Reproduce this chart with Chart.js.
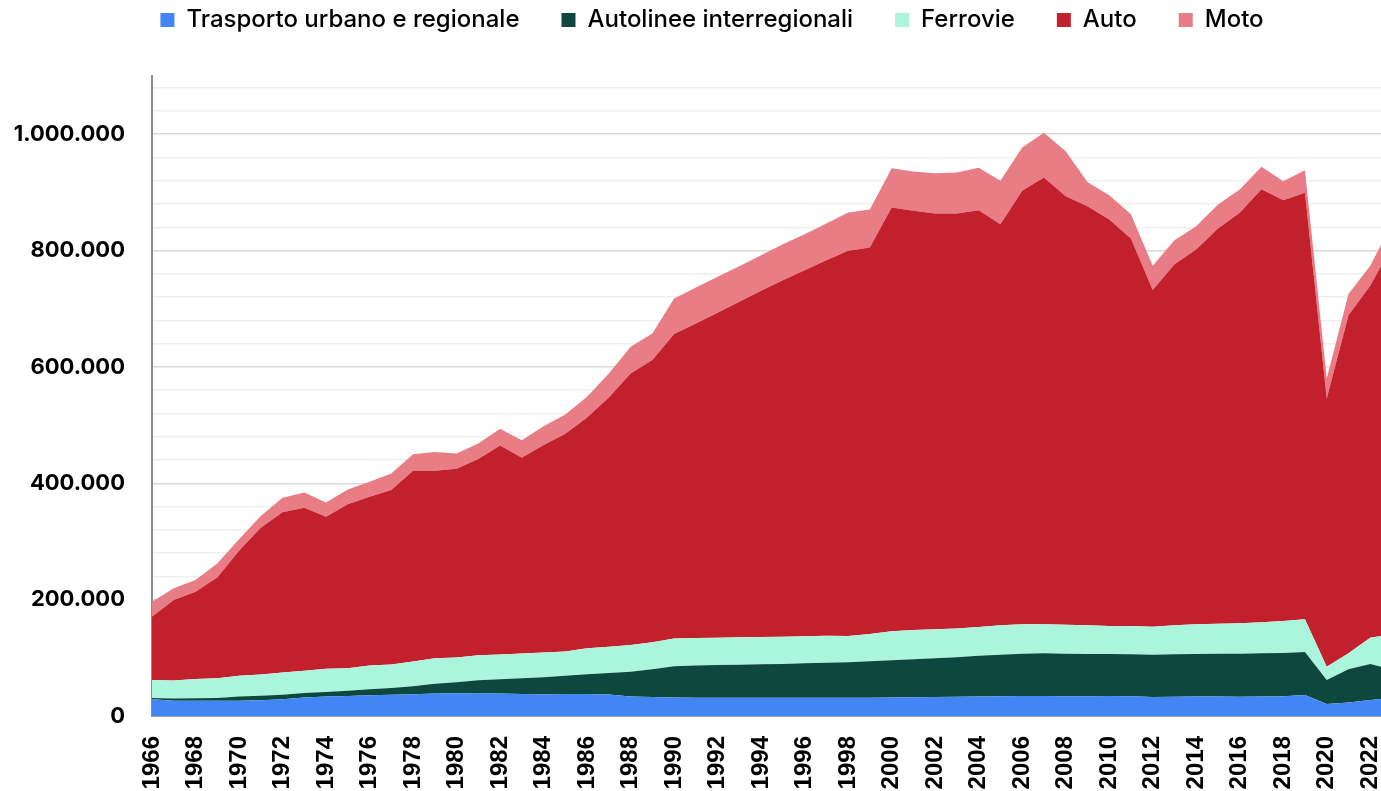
<!DOCTYPE html>
<html lang="it">
<head>
<meta charset="utf-8">
<title>Passeggeri-km per modalità</title>
<script src="https://cdn.jsdelivr.net/npm/chart.js@4/dist/chart.umd.min.js"></script>
<style>
    html, body { margin: 0; padding: 0; background: #fff; overflow: hidden; }
    #wrap { width: 1425px; height: 791px; }
</style>
</head>
<body>
<div id="wrap"><canvas id="myChart"></canvas></div>
<script>
// 年（カテゴリ）
const years = ['1966','1967','1968','1969','1970','1971','1972','1973','1974','1975',
    '1976','1977','1978','1979','1980','1981','1982','1983','1984','1985',
    '1986','1987','1988','1989','1990','1991','1992','1993','1994','1995',
    '1996','1997','1998','1999','2000','2001','2002','2003','2004','2005',
    '2006','2007','2008','2009','2010','2011','2012','2013','2014','2015',
    '2016','2017','2018','2019','2020','2021','2022','2023'];

// 系列データ
const urbano = [28600, 26000, 26000, 26200, 26400, 27000, 29000, 32000, 33500, 34500,
    35500, 36500, 37500, 38500, 39000, 38500, 38500, 38000, 37500, 38000,
    38000, 37000, 33500, 32500, 32000, 31500, 31500, 31500, 31500, 31500,
    31500, 31500, 31500, 31500, 32000, 32300, 32600, 33000, 33500, 34000,
    34500, 34500, 34000, 34000, 34500, 34000, 32600, 33000, 33500, 33500,
    33000, 33500, 34000, 36000, 20600, 23000, 27500, 31000];
const autolinee = [2300, 4000, 4500, 4800, 7100, 7600, 7400, 7500, 7700, 9000,
    10300, 11500, 13500, 17000, 19000, 23000, 24500, 27000, 29200, 31000,
    33600, 36900, 42700, 47700, 53400, 55100, 56200, 56800, 57300, 57900,
    59100, 60200, 60800, 62500, 63700, 65100, 66600, 67900, 70200, 71400,
    72600, 73200, 73100, 72500, 72000, 72000, 72800, 73000, 73000, 73500,
    74000, 74200, 74200, 74000, 41300, 57200, 61900, 49000];
const ferrovie = [31000, 31000, 33000, 34000, 35500, 36700, 38300, 38100, 39800, 38500,
    40800, 40400, 42500, 43700, 42400, 42900, 42600, 42300, 42300, 42000,
    44700, 45300, 45800, 46400, 47600, 47400, 47000, 47000, 47000, 47000,
    46400, 46400, 45200, 47000, 49900, 50500, 49800, 49300, 49300, 50400,
    50500, 49900, 49900, 49300, 48200, 48700, 48100, 49800, 51100, 51700,
    52300, 53300, 55100, 56200, 22900, 27500, 45200, 60600];
const auto = [108700, 138300, 150100, 173000, 215000, 252300, 275300, 280400, 261500, 282000,
    290300, 299900, 328000, 322300, 324600, 337200, 359400, 336600, 356600, 374000,
    396700, 428300, 466800, 485100, 523400, 540700, 558300, 576600, 595000, 612600,
    629300, 645400, 662000, 664300, 728400, 720400, 714700, 713500, 716400, 689500,
    745000, 767900, 736500, 720500, 698700, 666000, 578500, 620800, 644200, 679200,
    705500, 744500, 723300, 733000, 461000, 581300, 604800, 667400];
const moto = [25900, 20100, 20100, 24000, 19600, 20000, 25000, 26000, 24500, 25500,
    25700, 28700, 28500, 32100, 26000, 26900, 28700, 30100, 32400, 33000,
    35700, 41300, 45800, 45800, 61200, 61800, 61900, 61300, 61200, 62000,
    61700, 63000, 65900, 65300, 67600, 67700, 69300, 70300, 72700, 74500,
    74500, 76800, 77300, 41700, 41800, 41800, 41800, 41300, 40100, 41300,
    40100, 38400, 32600, 38900, 34400, 36100, 34400, 39000];

// 凡例ラベルと色
const seriesNames = ['Trasporto urbano e regionale', 'Autolinee interregionali', 'Ferrovie', 'Auto', 'Moto'];
const seriesColors = ['#4285F4', '#0D473D', '#ABF5DC', '#C3202D', '#E87D86'];

// Y軸：目盛り間隔（補助線）とラベル間隔
const yMax = 1100000;
const yMinorStep = 40000;
const yLabelStep = 200000;

// 1.000.000 形式に整形
function formatNum(v) {
    return String(v).replace(/\B(?=(\d{3})+(?!\d))/g, '.');
}

function isLabelTick(v) {
    return Math.abs(v / yLabelStep - Math.round(v / yLabelStep)) < 1e-6;
}

// 凡例の下に余白を追加し、凡例を少し右へずらすプラグイン
const legendSpacer = {
    id: 'legendSpacer',
    beforeInit(chart) {
        const origFit = chart.legend.fit;
        chart.legend.fit = function () {
            origFit.bind(chart.legend)();
            this.height += 34;
        };
    },
    afterLayout(chart) {
        chart.legend.left += 16;
        chart.legend.right += 16;
    }
};

const allSeries = [urbano, autolinee, ferrovie, auto, moto];
const datasets = allSeries.map((data, i) => ({
    label: seriesNames[i],
    data: data,
    backgroundColor: seriesColors[i],
    borderColor: seriesColors[i],
    borderWidth: 0,
    pointRadius: 0,
    tension: 0,
    fill: i === 0 ? 'origin' : '-1'
}));

const ctx = document.getElementById('myChart').getContext('2d');
const myChart = new Chart(ctx, {
    type: 'line',
    data: { labels: years, datasets: datasets },
    plugins: [legendSpacer],
    options: {
        responsive: true,
        maintainAspectRatio: false,
        animation: false,
        layout: { padding: { left: 0, right: 33, top: -34, bottom: 0 } },
        plugins: {
            legend: {
                position: 'top',
                labels: {
                    boxWidth: 14,
                    boxHeight: 14,
                    padding: 42,
                    color: '#000',
                    font: { family: 'Inter', size: 24, weight: '500' }
                }
            },
            tooltip: { enabled: false }
        },
        scales: {
            x: {
                stacked: true,
                offset: false,
                grid: { display: false, drawTicks: false },
                border: { display: true, color: '#a6a6a6', width: 2 },
                ticks: {
                    autoSkip: false,
                    maxRotation: 90,
                    minRotation: 90,
                    padding: 20,
                    color: '#000',
                    font: { family: 'Liberation Sans', size: 24, weight: 'bold' },
                    callback: function (value, index) {
                        const y = parseInt(years[index], 10);
                        return (y % 2 === 0 && y <= 2022) ? years[index] : '';
                    }
                },
                afterFit: function (scale) {
                    scale.height = 75;
                    scale.paddingLeft = 0;
                    scale.paddingRight = 0;
                }
            },
            y: {
                stacked: true,
                min: 0,
                max: yMax,
                grid: {
                    drawTicks: false,
                    color: function (c) {
                        const v = c.tick.value;
                        if (v === 0) return 'rgba(0,0,0,0)';
                        return isLabelTick(v) ? '#d9d9d9' : '#efefef';
                    },
                    lineWidth: 1.5
                },
                border: { display: true, color: '#8c8c8c', width: 2 },
                ticks: {
                    autoSkip: false,
                    padding: 27,
                    color: '#000',
                    font: { family: 'Inter', size: 22, weight: '700' },
                    callback: function (value) {
                        return isLabelTick(value) ? formatNum(Math.round(value)) : '';
                    }
                },
                // 補助線を 40.000 ごとに作る
                afterBuildTicks: function (scale) {
                    const ticks = [];
                    for (let v = 0; v < yMax; v += yMinorStep) {
                        ticks.push({ value: v });
                    }
                    scale.ticks = ticks;
                },
                afterFit: function (scale) { scale.width = 152; }
            }
        }
    }
});
</script>
</body>
</html>
